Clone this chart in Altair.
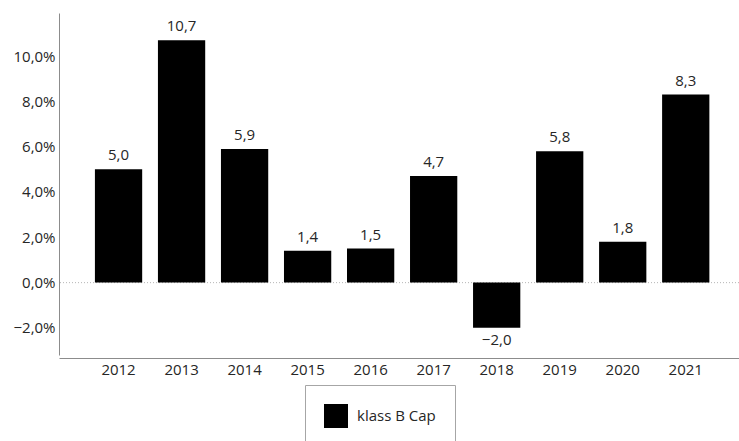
import altair as alt
import pandas as pd

years = ["2012", "2013", "2014", "2015", "2016", "2017", "2018", "2019", "2020", "2021"]
values = [5.0, 10.7, 5.9, 1.4, 1.5, 4.7, -2.0, 5.8, 1.8, 8.3]
series_name = "klass B Cap"
y_ticks = [-2, 0, 2, 4, 6, 8, 10]

df = pd.DataFrame({"year": years, "value": values, "series": series_name})
df["label"] = [f"{v:.1f}".replace(".", ",").replace("-", "\u2212") for v in values]

FONT = "Open Sans"
TXT = "#262626"
AXC = "#8c8c8c"

x = alt.X(
    "year:N", sort=years, title=None,
    scale=alt.Scale(paddingInner=0.25, paddingOuter=0.52, align=0.548),
    axis=alt.Axis(labelAngle=0, ticks=False, domainColor=AXC, labelFont=FONT,
                  labelFontSize=15, labelColor=TXT, labelPadding=4, offset=3),
)
y = alt.Y(
    "value:Q", title=None,
    scale=alt.Scale(domain=[-3.2, 11.9], nice=False, zero=False),
    axis=alt.Axis(values=y_ticks, grid=False, ticks=False, domainColor=AXC,
                  labelExpr="replace(format(datum.value, '.1f'), '.', ',') + '%'",
                  labelFont=FONT, labelFontSize=15, labelColor=TXT, labelPadding=4),
)

base = alt.Chart(df)

zero = base.mark_rule(color="#bfbfbf", strokeDash=[1, 2], strokeWidth=1).encode(y=alt.datum(0))

bars = base.mark_bar().encode(
    x=x, y=y,
    color=alt.Color(
        "series:N", scale=alt.Scale(range=["#000000"]),
        legend=alt.Legend(title=None, orient="none", legendX=246, legendY=372,
                          direction="vertical", symbolType="square", symbolSize=576,
                          symbolStrokeWidth=0, symbolOpacity=1, labelFont=FONT, labelFontSize=15,
                          labelColor=TXT, labelOffset=9, padding=19,
                          strokeColor="#a6a6a6", fillColor="white"),
    ),
)

text_pos = base.transform_filter("datum.value >= 0").mark_text(
    dy=-9, baseline="alphabetic", font=FONT, fontSize=15, color=TXT
).encode(x=alt.X("year:N", sort=years), y="value:Q", text="label:N")

text_neg = base.transform_filter("datum.value < 0").mark_text(
    dy=17, baseline="alphabetic", font=FONT, fontSize=15, color=TXT
).encode(x=alt.X("year:N", sort=years), y="value:Q", text="label:N")

chart = alt.layer(zero, bars, text_pos, text_neg).properties(
    width=680, height=342,
    autosize=alt.AutoSizeParams(type="none"),
    padding={"left": 59, "top": 13, "right": 0, "bottom": 86},
).configure_view(stroke=None)

chart.save("out.html", embed_options={"renderer": "svg", "actions": False})
